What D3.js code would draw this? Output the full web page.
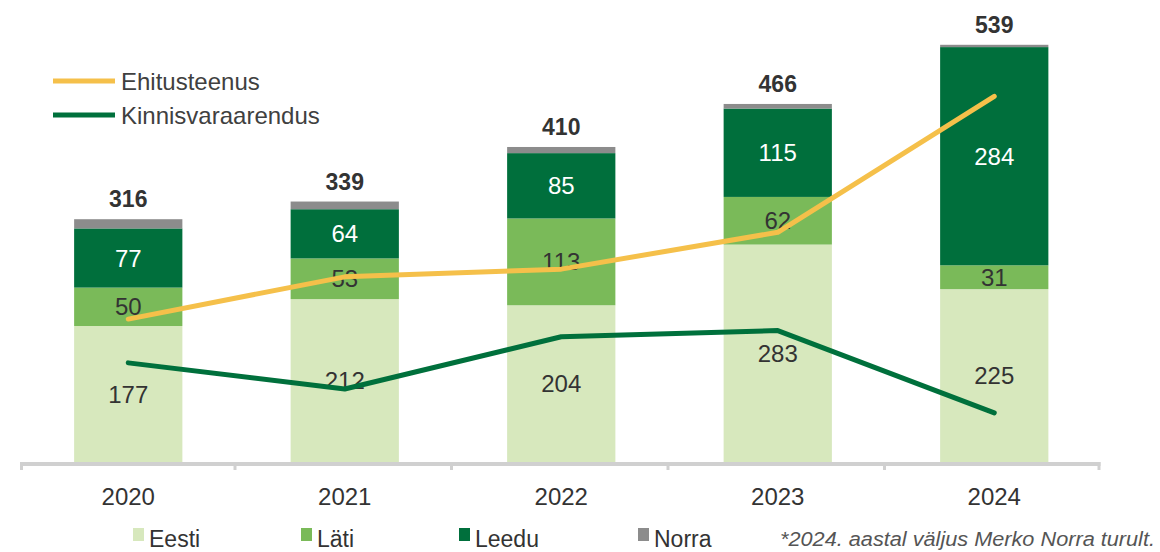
<!DOCTYPE html>
<html>
<head>
<meta charset="utf-8">
<script src="https://cdn.jsdelivr.net/npm/d3@7"></script>
<style>
    body { margin: 0; background: #fff; }
    svg { display: block; font-family: "Liberation Sans", Arial, sans-serif; }
</style>
</head>
<body>
<div id="chart"></div>
<script>
// Data
const years = ['2020', '2021', '2022', '2023', '2024'];
const eesti = [177, 212, 204, 283, 225];
const lati = [50, 53, 113, 62, 31];
const leedu = [77, 64, 85, 115, 284];
const norra = [12, 10, 8, 6, 3];
const totals = [316, 339, 410, 466, 539];
const ehitusteenus = [186, 241, 251, 299, 476];
const kinnisvara = [129, 95, 163, 171, 64];

const width = 1160;
const height = 552;
const baseY = 462;

const svg = d3.select('#chart')
    .append('svg')
    .attr('width', width)
    .attr('height', height);

// Scales
const xScale = d3.scaleBand()
    .domain(years)
    .range([20, 1102.5])
    .paddingInner(0.5)
    .paddingOuter(0.25);

const yScale = d3.scaleLinear()
    .domain([0, 600])
    .range([baseY, baseY - 461]);

// hidden secondary axis for the lines
const y2Scale = d3.scaleLinear()
    .domain([0, 600])
    .range([baseY, baseY - 461]);

const series = [
    { key: 'Eesti', values: eesti, color: '#d7e8bd', text: '#333' },
    { key: 'Läti', values: lati, color: '#7aba59', text: '#333' },
    { key: 'Leedu', values: leedu, color: '#006f3c', text: '#fff' },
    { key: 'Norra', values: norra, color: '#8c8c8c', text: null }
];

const rows = years.map((y, i) => {
    const r = { year: y };
    series.forEach(s => { r[s.key] = s.values[i]; });
    return r;
});

const stack = d3.stack().keys(series.map(s => s.key));
const stacked = stack(rows);

// Bars
const layers = svg.append('g')
    .selectAll('g')
    .data(stacked)
    .join('g')
    .attr('fill', (d, i) => series[i].color);

layers.selectAll('rect')
    .data(d => d)
    .join('rect')
    .attr('x', d => xScale(d.data.year))
    .attr('width', xScale.bandwidth())
    .attr('y', d => yScale(d[1]))
    .attr('height', d => yScale(d[0]) - yScale(d[1]));

// Segment labels
stacked.forEach((layer, i) => {
    if (!series[i].text) return;
    svg.append('g')
        .selectAll('text')
        .data(layer)
        .join('text')
        .attr('x', d => xScale(d.data.year) + xScale.bandwidth() / 2)
        .attr('y', d => (yScale(d[0]) + yScale(d[1])) / 2 + 8.5)
        .attr('text-anchor', 'middle')
        .style('font-size', '24px')
        .style('fill', series[i].text)
        .text(d => d.data[series[i].key]);
});

// Totals
svg.append('g')
    .selectAll('text')
    .data(years)
    .join('text')
    .attr('x', d => xScale(d) + xScale.bandwidth() / 2)
    .attr('y', (d, i) => yScale(d3.sum(series, s => s.values[i])) - 12)
    .attr('text-anchor', 'middle')
    .style('font-size', '23px')
    .style('font-weight', 'bold')
    .style('fill', '#333')
    .text((d, i) => totals[i]);

// Axis
const step = xScale.step();
const x0 = xScale.range()[0];
svg.append('line')
    .attr('x1', x0)
    .attr('x2', x0 + step * years.length - 2)
    .attr('y1', baseY + 2)
    .attr('y2', baseY + 2)
    .style('stroke', '#d0d0d0')
    .style('stroke-width', 4);

svg.append('g')
    .selectAll('line')
    .data(d3.range(years.length + 1))
    .join('line')
    .attr('x1', i => Math.min(x0 + step * i, x0 + step * years.length - 2) + (i === 0 ? 1.5 : -1.5))
    .attr('x2', i => Math.min(x0 + step * i, x0 + step * years.length - 2) + (i === 0 ? 1.5 : -1.5))
    .attr('y1', baseY)
    .attr('y2', baseY + 8)
    .style('stroke', '#d0d0d0')
    .style('stroke-width', 3);

svg.append('g')
    .attr('transform', `translate(0,${baseY})`)
    .call(d3.axisBottom(xScale).tickSize(0).tickPadding(26))
    .call(g => g.select('.domain').remove())
    .selectAll('text')
    .style('font-size', '24px')
    .style('font-family', '"Liberation Sans", Arial, sans-serif')
    .style('fill', '#333');

// Lines
const lineGen = (vals) => d3.line()
    .x((d, i) => xScale(years[i]) + xScale.bandwidth() / 2)
    .y(d => y2Scale(d))(vals);

svg.append('path')
    .attr('d', lineGen(ehitusteenus))
    .style('fill', 'none')
    .style('stroke', '#f5c04a')
    .style('stroke-width', 5)
    .style('stroke-linecap', 'round')
    .style('stroke-linejoin', 'round');

svg.append('path')
    .attr('d', lineGen(kinnisvara))
    .style('fill', 'none')
    .style('stroke', '#00703c')
    .style('stroke-width', 5)
    .style('stroke-linecap', 'round')
    .style('stroke-linejoin', 'round');

// Line legend
const lineLegend = [
    { name: 'Ehitusteenus', color: '#f5c04a', y: 81 },
    { name: 'Kinnisvaraarendus', color: '#00703c', y: 115 }
];
lineLegend.forEach(l => {
    svg.append('line')
        .attr('x1', 53).attr('x2', 115)
        .attr('y1', l.y).attr('y2', l.y)
        .style('stroke', l.color)
        .style('stroke-width', 5);
    svg.append('text')
        .attr('x', 121)
        .attr('y', l.y + 8.5)
        .style('font-size', '24px')
        .style('fill', '#404040')
        .text(l.name);
});

// Bar legend
const legendX = [133, 301, 459, 638];
series.forEach((s, i) => {
    svg.append('rect')
        .attr('x', legendX[i])
        .attr('y', 528)
        .attr('width', 11)
        .attr('height', 13)
        .style('fill', s.color);
    svg.append('text')
        .attr('x', legendX[i] + 16)
        .attr('y', 547)
        .style('font-size', '23px')
        .style('fill', '#333')
        .text(s.key);
});

// Footnote
svg.append('text')
    .attr('x', 780)
    .attr('y', 546)
    .attr('textLength', 375)
    .attr('lengthAdjust', 'spacingAndGlyphs')
    .style('font-size', '20px')
    .style('font-style', 'italic')
    .style('fill', '#555')
    .text('*2024. aastal väljus Merko Norra turult.');
</script>
</body>
</html>
